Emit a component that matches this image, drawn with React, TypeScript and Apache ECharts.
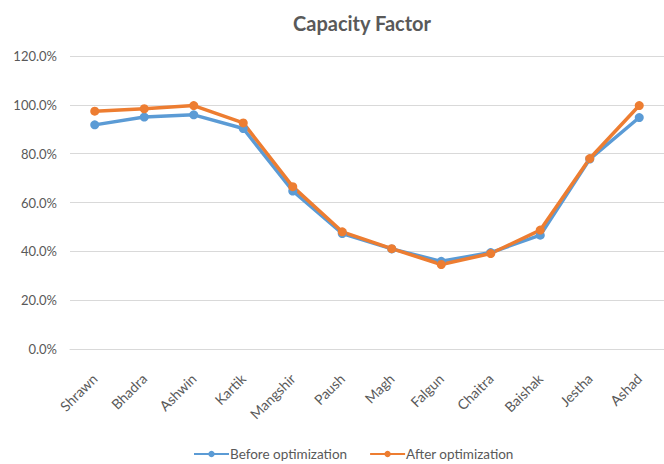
import React, { useEffect, useRef } from "react";
import * as echarts from "echarts";

// Nepali months of the fiscal year
const months = [
  "Shrawn", "Bhadra", "Ashwin", "Kartik", "Mangshir", "Paush",
  "Magh", "Falgun", "Chaitra", "Baishak", "Jestha", "Ashad",
];

// Capacity factor (%) per month
const beforeOptimization = [91.8, 95.0, 95.9, 90.3, 64.7, 47.3, 41.0, 35.9, 39.5, 46.6, 77.8, 94.8];
const afterOptimization = [97.4, 98.4, 99.7, 92.6, 66.5, 48.0, 41.1, 34.6, 39.1, 48.7, 78.0, 99.7];

const yTicks = { min: 0, max: 120, interval: 20 };

const FONT = "Lato, 'Open Sans', sans-serif";
const GRAY = "#595959";

export default function App() {
  const ref = useRef<HTMLDivElement>(null);

  useEffect(() => {
    if (!ref.current) return;
    const chart = echarts.init(ref.current, undefined, { renderer: "svg" });
    const lineSeries = (name: string, data: number[], color: string) => ({
      name,
      type: "line",
      data,
      symbol: "circle",
      symbolSize: 9,
      lineStyle: { width: 3.5, color },
      itemStyle: { color },
    });
    chart.setOption({
      animation: false,
      backgroundColor: "#ffffff",
      title: {
        text: "Capacity Factor",
        left: 288,
        top: 8,
        textStyle: { fontFamily: FONT, fontSize: 20, fontWeight: "bold", color: GRAY },
      },
      grid: { left: 70, top: 56, width: 596, bottom: 115, containLabel: false },
      xAxis: {
        type: "category",
        data: months,
        boundaryGap: true,
        axisLine: { show: true, lineStyle: { color: "#d9d9d9", width: 1 } },
        axisTick: { show: false },
        axisLabel: {
          rotate: 45,
          interval: 0,
          margin: 27,
          fontFamily: FONT,
          fontSize: 14,
          color: GRAY,
        },
      },
      yAxis: {
        type: "value",
        min: yTicks.min,
        max: yTicks.max,
        interval: yTicks.interval,
        axisLine: { show: false },
        axisTick: { show: false },
        splitLine: { lineStyle: { color: "#d9d9d9", width: 1 } },
        axisLabel: {
          formatter: (v: number) => v.toFixed(1) + "%",
          margin: 13,
          fontFamily: FONT,
          fontSize: 13,
          color: GRAY,
        },
      },
      legend: {
        top: 442,
        left: 188,
        itemWidth: 35,
        itemHeight: 8,
        itemGap: 22,
        textStyle: { fontFamily: FONT, fontSize: 13.5, color: GRAY, padding: [0, 0, 0, -4] },
        data: ["Before optimization", "After optimization"],
      },
      series: [
        lineSeries("Before optimization", beforeOptimization, "#5B9BD5"),
        lineSeries("After optimization", afterOptimization, "#ED7D31"),
      ],
    });
    return () => chart.dispose();
  }, []);

  return (
    <div
      ref={ref}
      style={{ position: "fixed", left: 0, top: 0, width: 664, height: 464 }}
    />
  );
}
